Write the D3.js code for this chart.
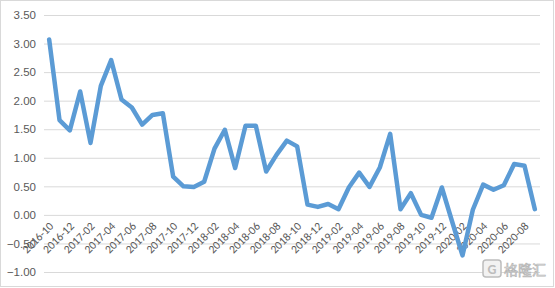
<!DOCTYPE html>
<html><head><meta charset="utf-8">
<script src="https://cdn.jsdelivr.net/npm/d3@7"></script>
<style>
html,body{margin:0;padding:0;background:#fff;}
svg{display:block;font-family:Calibri,"Liberation Sans",Arial,sans-serif;}
</style></head>
<body>
<svg id="chart" width="555" height="288"></svg>
<script>
const months = ["2016-10","2016-11","2016-12","2017-01","2017-02","2017-03","2017-04","2017-05","2017-06","2017-07","2017-08","2017-09",
"2017-10","2017-11","2017-12","2018-01","2018-02","2018-03","2018-04","2018-05","2018-06","2018-07","2018-08","2018-09",
"2018-10","2018-11","2018-12","2019-01","2019-02","2019-03","2019-04","2019-05","2019-06","2019-07","2019-08","2019-09",
"2019-10","2019-11","2019-12","2020-01","2020-02","2020-03","2020-04","2020-05","2020-06","2020-07","2020-08","2020-09"];
const values = [3.07,1.66,1.48,2.16,1.26,2.26,2.71,2.02,1.88,1.58,1.75,1.78,
0.67,0.50,0.49,0.58,1.16,1.49,0.82,1.56,1.56,0.76,1.05,1.30,
1.20,0.18,0.14,0.19,0.10,0.48,0.74,0.49,0.83,1.42,0.10,0.38,
0.00,-0.05,0.48,-0.12,-0.71,0.09,0.53,0.44,0.52,0.89,0.86,0.10];
const yTicks = [-1,-0.5,0,0.5,1,1.5,2,2.5,3,3.5];
const xTickLabels = months.filter((m,i)=>i%2===0);

const svg = d3.select("#chart");
svg.append("rect").attr("x",0.5).attr("y",0.5).attr("width",553).attr("height",286)
  .attr("fill","#fff").attr("stroke","#d9d9d9");

const x = d3.scalePoint().domain(months).range([44,540]).padding(0.5);
const y = d3.scaleLinear().domain([-1,3.5]).range([272,15]);

const yAxis = d3.axisLeft(y).tickValues(yTicks).tickFormat(d3.format(".2f"))
  .tickSize(-(540-44)).tickPadding(8);
const gy = svg.append("g").attr("transform","translate(44,0)").call(yAxis);
gy.select(".domain").remove();
gy.selectAll(".tick line").attr("stroke","#d9d9d9").attr("stroke-width",1);
gy.selectAll(".tick text").attr("fill","#595959").style("font-size","11.5px");

const gx = svg.append("g");
gx.selectAll("text").data(xTickLabels).enter().append("text")
  .attr("transform",d=>`translate(${x(d)+5},${y(0)+12}) rotate(-45)`)
  .attr("text-anchor","end")
  .attr("fill","#595959")
  .style("font-size","11.5px")
  .text(d=>d);

const line = d3.line().x((d,i)=>x(months[i])).y(d=>y(d));
svg.append("path").datum(values).attr("d",line)
  .attr("fill","none").attr("stroke","#5b9bd5").attr("stroke-width",4.5)
  .attr("stroke-linejoin","round").attr("stroke-linecap","round");

const wm = svg.append("g");
wm.append("rect").attr("x",483).attr("y",260).attr("width",18).attr("height",17).attr("rx",3)
  .attr("fill","#f2f2f2").attr("stroke","#bdbdbd").attr("stroke-width",1.5);
wm.append("text").attr("x",492).attr("y",274).attr("text-anchor","middle")
  .attr("fill","#bdbdbd").style("font-size","14px").style("font-weight","bold").text("G");
wm.append("text").attr("x",504).attr("y",275).attr("fill","#ececec").attr("stroke","#b5b5b5").attr("stroke-width",0.7)
  .style("font-family","'Noto Sans CJK SC',sans-serif").style("font-size","14px").text("格隆汇");
</script>
</body></html>
